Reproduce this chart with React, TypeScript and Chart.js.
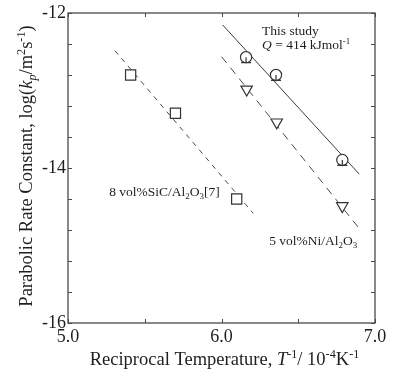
import { useEffect, useRef } from 'react';
import { Chart, registerables } from 'chart.js';

Chart.register(...registerables);

// ---- data ----
const studyX = [6.16, 6.355, 6.787];
const studyY = [-12.57, -12.8, -13.897];
const studyErr = [0.07, 0.07, 0.07];
const niX = [6.164, 6.36, 6.787];
const niY = [-12.985, -13.41, -14.49];
const sicX = [5.408, 5.7, 6.099];
const sicY = [-12.8, -13.294, -14.4];
const studyFitX = [6.008, 6.898];
const studyFitY = [-12.155, -14.08];
const niFitX = [6.001, 6.896];
const niFitY = [-12.564, -14.778];
const sicFitX = [5.306, 6.207];
const sicFitY = [-12.486, -14.585];

const xTicks = [5.0, 5.5, 6.0, 6.5, 7.0];
const xTickLabels = ['5.0', '', '6.0', '', '7.0'];
const yTicks = [-12, -12.4, -12.8, -13.2, -13.6, -14, -14.4, -14.8, -15.2, -15.6, -16];
const yTickLabels = ['-12', '', '', '', '', '-14', '', '', '', '', '-16'];

type Seg = { t: string; i?: boolean; s?: 'sub' | 'sup' };

const xTitle: Seg[] = [
  { t: 'Reciprocal Temperature, ' },
  { t: 'T', i: true },
  { t: '-1', s: 'sup' },
  { t: '/ 10' },
  { t: '-4', s: 'sup' },
  { t: 'K' },
  { t: '-1', s: 'sup' },
];
const yTitle: Seg[] = [
  { t: 'Parabolic Rate Constant, log(' },
  { t: 'k', i: true },
  { t: 'p', i: true, s: 'sub' },
  { t: '/m' },
  { t: '2', s: 'sup' },
  { t: 's' },
  { t: '-1', s: 'sup' },
  { t: ')' },
];

const notes: { segs: Seg[]; x: number; y: number }[] = [
  { segs: [{ t: 'This study' }], x: 6.264, y: -12.29 },
  {
    segs: [{ t: 'Q', i: true }, { t: ' = 414 kJmol' }, { t: '-1', s: 'sup' }],
    x: 6.264,
    y: -12.465,
  },
  {
    segs: [
      { t: '8 vol%SiC/Al' },
      { t: '2', s: 'sub' },
      { t: 'O' },
      { t: '3', s: 'sub' },
      { t: '[7]' },
    ],
    x: 5.268,
    y: -14.361,
  },
  {
    segs: [
      { t: '5 vol%Ni/Al' },
      { t: '2', s: 'sub' },
      { t: 'O' },
      { t: '3', s: 'sub' },
    ],
    x: 6.311,
    y: -14.994,
  },
];

const FONT = '"Liberation Serif", "Times New Roman", serif';
const TEXT = '#1e1e1e';
const FRAME = '#4a4a4a';

function fontFor(seg: Seg, size: number) {
  const sz = seg.s ? size * 0.66 : size;
  return `${seg.i ? 'italic ' : ''}${sz}px ${FONT}`;
}

function drawRich(
  ctx: CanvasRenderingContext2D,
  segs: Seg[],
  x: number,
  y: number,
  size: number,
  align: 'left' | 'center'
) {
  ctx.textBaseline = 'alphabetic';
  ctx.textAlign = 'left';
  let total = 0;
  for (const s of segs) {
    ctx.font = fontFor(s, size);
    total += ctx.measureText(s.t).width;
  }
  let cx = align === 'center' ? x - total / 2 : x;
  for (const s of segs) {
    ctx.font = fontFor(s, size);
    const dy = s.s === 'sup' ? -size * 0.4 : s.s === 'sub' ? size * 0.22 : 0;
    ctx.fillText(s.t, cx, y + dy);
    cx += ctx.measureText(s.t).width;
  }
}

const decorPlugin = {
  id: 'decor',
  afterDatasetsDraw(chart: any) {
    const ctx: CanvasRenderingContext2D = chart.ctx;
    const { left, right, top, bottom } = chart.chartArea;
    const xs = chart.scales.x;
    const ys = chart.scales.y;
    ctx.save();
    // error caps
    ctx.strokeStyle = '#333';
    ctx.lineWidth = 1.2;
    for (let i = 0; i < studyX.length; i++) {
      const px = xs.getPixelForValue(studyX[i]);
      const py = ys.getPixelForValue(studyY[i] - studyErr[i]);
      const pc = ys.getPixelForValue(studyY[i]);
      ctx.beginPath();
      ctx.moveTo(px, pc);
      ctx.lineTo(px, py);
      ctx.moveTo(px - 5, py);
      ctx.lineTo(px + 5, py);
      ctx.stroke();
    }
    // frame
    ctx.strokeStyle = FRAME;
    ctx.lineWidth = 1.3;
    ctx.strokeRect(left, top, right - left, bottom - top);
    // inner ticks
    ctx.lineWidth = 1;
    const tl = 4;
    ctx.beginPath();
    for (const v of xTicks) {
      const px = Math.round(xs.getPixelForValue(v)) + 0.5;
      ctx.moveTo(px, bottom);
      ctx.lineTo(px, bottom - tl);
      ctx.moveTo(px, top);
      ctx.lineTo(px, top + tl);
    }
    for (const v of yTicks) {
      const py = Math.round(ys.getPixelForValue(v)) + 0.5;
      ctx.moveTo(left, py);
      ctx.lineTo(left + tl, py);
      ctx.moveTo(right, py);
      ctx.lineTo(right - tl, py);
    }
    ctx.stroke();
    // annotations
    ctx.fillStyle = TEXT;
    for (const n of notes) {
      drawRich(ctx, n.segs, xs.getPixelForValue(n.x), ys.getPixelForValue(n.y), 13.5, 'left');
    }
    // axis titles
    drawRich(ctx, xTitle, (left + right) / 2 + 3, 365, 18.5, 'center');
    ctx.save();
    ctx.translate(32, (top + bottom) / 2 - 2);
    ctx.rotate(-Math.PI / 2);
    drawRich(ctx, yTitle, 0, 0, 18.5, 'center');
    ctx.restore();
    ctx.restore();
  },
};

export default function App() {
  const ref = useRef<HTMLCanvasElement | null>(null);
  useEffect(() => {
    if (!ref.current) return;
    const pts = (xa: number[], ya: number[]) => xa.map((x, i) => ({ x, y: ya[i] }));
    const chart = new Chart(ref.current, {
      type: 'scatter',
      data: {
        datasets: [
          {
            label: 'This study',
            data: pts(studyX, studyY),
            pointStyle: 'circle',
            pointRadius: 5.6,
            backgroundColor: '#ffffff',
            borderColor: '#333',
            borderWidth: 1.2,
          },
          {
            label: '5 vol%Ni/Al2O3',
            data: pts(niX, niY),
            pointStyle: 'triangle',
            rotation: 180,
            pointRadius: 6.6,
            backgroundColor: '#ffffff',
            borderColor: '#333',
            borderWidth: 1.2,
          },
          {
            label: '8 vol%SiC/Al2O3',
            data: pts(sicX, sicY),
            pointStyle: 'rect',
            pointRadius: 7.2,
            backgroundColor: '#ffffff',
            borderColor: '#333',
            borderWidth: 1.2,
          },
          {
            label: 'fit study',
            data: pts(studyFitX, studyFitY),
            showLine: true,
            pointRadius: 0,
            borderColor: '#3a3a3a',
            borderWidth: 1,
          },
          {
            label: 'fit Ni',
            data: pts(niFitX, niFitY),
            showLine: true,
            pointRadius: 0,
            borderColor: '#4a4a4a',
            borderWidth: 1,
            borderDash: [8, 6],
          },
          {
            label: 'fit SiC',
            data: pts(sicFitX, sicFitY),
            showLine: true,
            pointRadius: 0,
            borderColor: '#4a4a4a',
            borderWidth: 1,
            borderDash: [5, 5],
          },
        ],
      },
      options: {
        responsive: false,
        animation: false,
        devicePixelRatio: 1,
        layout: { padding: { left: 0, top: 13, right: 25, bottom: 0 } },
        plugins: { legend: { display: false }, tooltip: { enabled: false } },
        scales: {
          x: {
            type: 'linear',
            min: 5,
            max: 7,
            grid: { display: false, drawTicks: false },
            border: { display: false },
            afterBuildTicks: (s: any) => {
              s.ticks = xTicks.map((v) => ({ value: v }));
            },
            afterFit: (s: any) => {
              s.height = 54;
            },
            ticks: {
              autoSkip: false,
              maxRotation: 0,
              padding: 3,
              color: TEXT,
              font: { family: FONT, size: 18 },
              callback: (_v: any, i: number) => xTickLabels[i],
            },
          },
          y: {
            type: 'linear',
            min: -16,
            max: -12,
            grid: { display: false, drawTicks: false },
            border: { display: false },
            afterBuildTicks: (s: any) => {
              s.ticks = yTicks.map((v) => ({ value: v }));
            },
            afterFit: (s: any) => {
              s.width = 68;
            },
            ticks: {
              autoSkip: false,
              padding: 2,
              color: TEXT,
              font: { family: FONT, size: 18 },
              callback: (_v: any, i: number) => yTickLabels[i],
            },
          },
        },
      },
      plugins: [decorPlugin],
    });
    return () => chart.destroy();
  }, []);
  return (
    <canvas
      ref={ref}
      width={400}
      height={377}
      style={{ position: 'fixed', left: 0, top: 0, width: 400, height: 377, display: 'block', background: '#fff' }}
    />
  );
}
